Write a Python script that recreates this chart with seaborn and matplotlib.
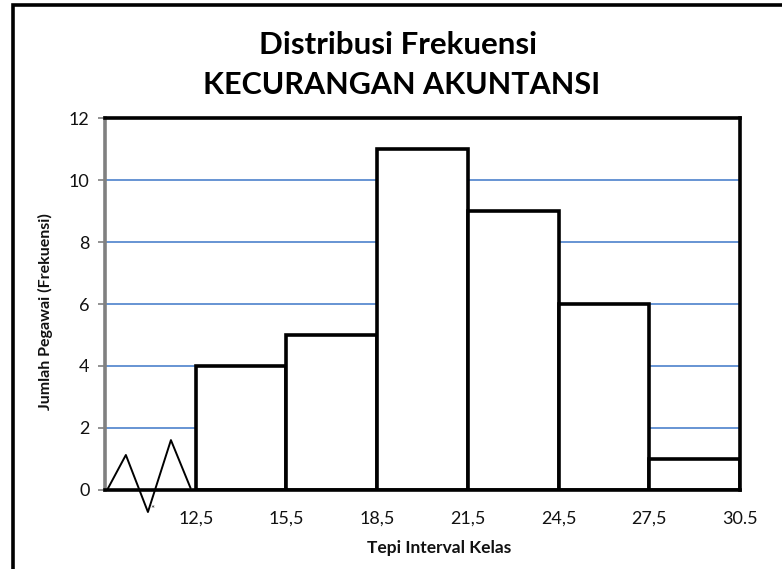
import matplotlib
matplotlib.use("Agg")
import matplotlib.pyplot as plt
from matplotlib.lines import Line2D
import seaborn as sns
import numpy as np
import pandas as pd

# Class boundaries and frequencies
bin_edges = [12.5, 15.5, 18.5, 21.5, 24.5, 27.5, 30.5]
frequencies = [4, 5, 11, 9, 6, 1]
tick_positions = [12.5, 15.5, 18.5, 21.5, 24.5, 27.5, 30.5]
tick_labels = ["12,5", "15,5", "18,5", "21,5", "24,5", "27,5", "30.5"]
y_ticks = [0, 2, 4, 6, 8, 10, 12]

# Zigzag axis-break symbol before the first class
zigzag_x = [9.57, 10.19, 10.92, 11.68, 12.33]
zigzag_y = [0.0, 1.13, -0.71, 1.61, 0.06]

sns.set_theme(style="white")
plt.rcParams["font.family"] = ["Lato", "DejaVu Sans"]

W, H = 782, 569
fig = plt.figure(figsize=(W / 100, H / 100), dpi=100)
fig.patch.set_facecolor("white")
ax = fig.add_axes([105 / W, 1 - 490 / H, (740 - 105) / W, (490 - 118) / H])

mids = [(a + b) / 2 for a, b in zip(bin_edges[:-1], bin_edges[1:])]
df = pd.DataFrame({"kelas": mids, "frek": frequencies})

# Horizontal grid lines
for yv in y_ticks[1:-1]:
    ax.axhline(yv, color="#5b8bd0", linewidth=1.3, zorder=0.5)

sns.histplot(data=df, x="kelas", weights="frek", bins=bin_edges, ax=ax,
             color="white", edgecolor="black", linewidth=2.6, alpha=1,
             zorder=2)

sns.lineplot(x=zigzag_x, y=zigzag_y, sort=False, ax=ax, color="black",
             linewidth=1.4, clip_on=False, zorder=3)
ax.text(zigzag_x[2] + 0.15, zigzag_y[2] + 0.08, "*", fontsize=7,
        ha="center", va="center", clip_on=False, zorder=5)

ax.set_xlim(9.5, 30.5)
ax.set_ylim(0, 12)
ax.set_xticks(tick_positions)
ax.set_xticklabels(tick_labels, fontsize=13)
ax.set_yticks(y_ticks)
ax.set_yticklabels([str(v) for v in y_ticks], fontsize=13)
ax.tick_params(axis="x", length=0, pad=15, colors="#111111")
ax.tick_params(axis="y", length=5, width=1.2, color="#808080", pad=6,
               left=True, labelcolor="#111111")
ax.set_xlabel("")
ax.set_ylabel("")

for side in ["top", "right", "bottom"]:
    ax.spines[side].set_color("black")
    ax.spines[side].set_linewidth(2.6)
ax.spines["left"].set_color("#808080")
ax.spines["left"].set_linewidth(2.6)
for s in ax.spines.values():
    s.set_zorder(4)
    s.set_capstyle("projecting")

fig.text(439 / W, 1 - 548 / H, "Tepi Interval Kelas", ha="center",
         va="center", fontsize=12.5, fontweight="bold", color="#111111")
fig.text(45 / W, 1 - 312 / H, "Jumlah Pegawai (Frekuensi)", ha="center",
         va="center", rotation=90, fontsize=11.5, fontweight="bold",
         color="#111111")

fig.text(398 / W, 1 - 45 / H, "Distribusi Frekuensi", ha="center",
         va="center", fontsize=22.5, fontweight="bold", color="black")
fig.text(402 / W, 1 - 85 / H, "KECURANGAN AKUNTANSI", ha="center",
         va="center", fontsize=22, fontweight="bold", color="black")

# Outer frame (left and top edges)
fig.add_artist(Line2D([13 / W, 13 / W, 1], [0, 1 - 5 / H, 1 - 5 / H],
                      transform=fig.transFigure, color="black",
                      linewidth=2.6, solid_joinstyle="miter"))

fig.savefig("out.png", dpi=100)
